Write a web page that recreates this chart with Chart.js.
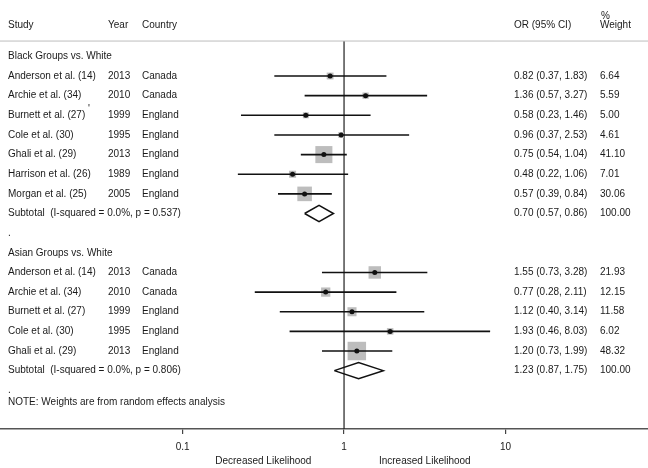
<!DOCTYPE html>
<html>
<head>
<meta charset="utf-8">
<script src="https://cdn.jsdelivr.net/npm/chart.js@4/dist/chart.umd.min.js"></script>
<style>
  body { margin:0; background:#fff; }
  #c { display:block; }
</style>
</head>
<body>
<canvas id="c" width="648" height="468"></canvas>
<script>
// Black groups vs. White
const blackStudies   = ["Anderson et al. (14)","Archie et al. (34)","Burnett et al. (27)","Cole et al. (30)","Ghali et al. (29)","Harrison et al. (26)","Morgan et al. (25)"];
const blackYears     = ["2013","2010","1999","1995","2013","1989","2005"];
const blackCountries = ["Canada","Canada","England","England","England","England","England"];
const blackOR        = [0.82, 1.36, 0.58, 0.96, 0.75, 0.48, 0.57];
const blackLo        = [0.37, 0.57, 0.23, 0.37, 0.54, 0.22, 0.39];
const blackHi        = [1.83, 3.27, 1.46, 2.53, 1.04, 1.06, 0.84];
const blackWeight    = [6.64, 5.59, 5.00, 4.61, 41.10, 7.01, 30.06];
const blackSubtotal  = { or:0.70, lo:0.57, hi:0.86, weight:100.00, label:"Subtotal  (I-squared = 0.0%, p = 0.537)" };

// Asian groups vs. White
const asianStudies   = ["Anderson et al. (14)","Archie et al. (34)","Burnett et al. (27)","Cole et al. (30)","Ghali et al. (29)"];
const asianYears     = ["2013","2010","1999","1995","2013"];
const asianCountries = ["Canada","Canada","England","England","England"];
const asianOR        = [1.55, 0.77, 1.12, 1.93, 1.20];
const asianLo        = [0.73, 0.28, 0.40, 0.46, 0.73];
const asianHi        = [3.28, 2.11, 3.14, 8.03, 1.99];
const asianWeight    = [21.93, 12.15, 11.58, 6.02, 48.32];
const asianSubtotal  = { or:1.23, lo:0.87, hi:1.75, weight:100.00, label:"Subtotal  (I-squared = 0.0%, p = 0.806)" };

const xTicks = [0.1, 1, 10];
const X_MIN = 0.0074, X_MAX = 76.3;
const Y_MIN = -2.87, Y_MAX = 18.97;
const HEADER_ROW = -0.78;

// row layout
const blackRows = blackStudies.map((_, i) => i + 1);
const asianRows = asianStudies.map((_, i) => i + 11);
const blackSubRow = 8, asianSubRow = 16;

const fmt = (o, l, h) => o.toFixed(2) + " (" + l.toFixed(2) + ", " + h.toFixed(2) + ")";

const allOR = blackOR.concat(asianOR);
const allLo = blackLo.concat(asianLo);
const allHi = blackHi.concat(asianHi);
const allW  = blackWeight.concat(asianWeight);
const allRows = blackRows.concat(asianRows);

const datasets = [];
datasets.push({ type:'line', data:[{x:X_MIN,y:HEADER_ROW},{x:X_MAX,y:HEADER_ROW}], borderColor:'#bdbdbd', borderWidth:1, pointRadius:0, order:6 });
datasets.push({ type:'line', data:[{x:1,y:HEADER_ROW},{x:1,y:Y_MAX}], borderColor:'#222', borderWidth:1.2, pointRadius:0, order:6 });
datasets.push({
  type:'scatter',
  data: allOR.map((v, i) => ({x:v, y:allRows[i]})),
  pointStyle:'rect',
  pointRadius: ctx => 1.88 * Math.sqrt(allW[ctx.dataIndex] || 0),
  backgroundColor:'#bdbdbd', borderWidth:0, order:5
});
allOR.forEach((v, i) => {
  datasets.push({ type:'line', data:[{x:allLo[i],y:allRows[i]},{x:allHi[i],y:allRows[i]}], borderColor:'#111', borderWidth:1.6, pointRadius:0, order:3 });
});
[[blackSubtotal, blackSubRow],[asianSubtotal, asianSubRow]].forEach(([s, r]) => {
  const h = 0.41;
  datasets.push({ type:'line',
    data:[{x:s.lo,y:r},{x:s.or,y:r-h},{x:s.hi,y:r},{x:s.or,y:r+h},{x:s.lo,y:r}],
    borderColor:'#111', borderWidth:1.5, pointRadius:0, tension:0, order:3 });
});
datasets.push({
  type:'scatter',
  data: allOR.map((v, i) => ({x:v, y:allRows[i]})),
  pointRadius:2.5, backgroundColor:'#111', borderWidth:0, order:1
});

const FONT = '10px "Liberation Sans", Arial, sans-serif';
const textPlugin = {
  id:'forestText',
  afterDatasetsDraw(chart) {
    const ctx = chart.ctx, ys = chart.scales.y, xs = chart.scales.x;
    const Y = r => ys.getPixelForValue(r);
    ctx.save();
    ctx.font = FONT;
    ctx.fillStyle = '#1a1a1a';
    ctx.textBaseline = 'middle';
    ctx.textAlign = 'left';
    const put = (t, x, r) => ctx.fillText(t, x, Y(r));
    // headers
    put("%", 601, -2.04);
    put("Study", 8, -1.58); put("Year", 108, -1.58); put("Country", 142, -1.58);
    put("OR (95% CI)", 514, -1.58); put("Weight", 600, -1.58);
    put("Black Groups vs. White", 8, 0);
    blackStudies.forEach((s, i) => {
      const r = blackRows[i];
      put(s, 8, r); put(blackYears[i], 108, r); put(blackCountries[i], 142, r);
      put(fmt(blackOR[i], blackLo[i], blackHi[i]), 514, r); put(blackWeight[i].toFixed(2), 600, r);
    });
    ctx.fillText("'", 88, Y(3) - 6);
    put(blackSubtotal.label, 8, blackSubRow);
    put(fmt(blackSubtotal.or, blackSubtotal.lo, blackSubtotal.hi), 514, blackSubRow);
    put(blackSubtotal.weight.toFixed(2), 600, blackSubRow);
    put(".", 8, 9);
    put("Asian Groups vs. White", 8, 10);
    asianStudies.forEach((s, i) => {
      const r = asianRows[i];
      put(s, 8, r); put(asianYears[i], 108, r); put(asianCountries[i], 142, r);
      put(fmt(asianOR[i], asianLo[i], asianHi[i]), 514, r); put(asianWeight[i].toFixed(2), 600, r);
    });
    put(asianSubtotal.label, 8, asianSubRow);
    put(fmt(asianSubtotal.or, asianSubtotal.lo, asianSubtotal.hi), 514, asianSubRow);
    put(asianSubtotal.weight.toFixed(2), 600, asianSubRow);
    put(".", 8, 17);
    put("NOTE: Weights are from random effects analysis", 8, 17.6);
    // axis captions
    ctx.textAlign = 'center';
    ctx.fillText("Decreased Likelihood", xs.getPixelForValue(Math.sqrt(0.1)), 461);
    ctx.fillText("Increased Likelihood", xs.getPixelForValue(Math.sqrt(10)), 461);
    ctx.restore();
  }
};

new Chart(document.getElementById('c'), {
  type:'scatter',
  data:{ datasets },
  options:{
    responsive:false,
    animation:false,
    layout:{ padding:0, autoPadding:false },
    plugins:{ legend:{display:false}, tooltip:{enabled:false} },
    scales:{
      x:{
        type:'logarithmic', min:X_MIN, max:X_MAX,
        afterBuildTicks: s => { s.ticks = xTicks.map(v => ({value:v})); },
        afterFit: s => { s.height = 39; },
        ticks:{ font:{ family:'"Liberation Sans", Arial, sans-serif', size:10 }, color:'#1a1a1a', padding:7,
                callback: v => String(v), autoSkip:false, maxRotation:0 },
        grid:{ display:true, drawOnChartArea:false, drawTicks:true, tickLength:5, color:'#444', lineWidth:1.2 },
        border:{ display:true, color:'#555', width:1.5 }
      },
      y:{ type:'linear', min:Y_MIN, max:Y_MAX, reverse:true, display:false }
    }
  },
  plugins:[textPlugin]
});
</script>
</body>
</html>
